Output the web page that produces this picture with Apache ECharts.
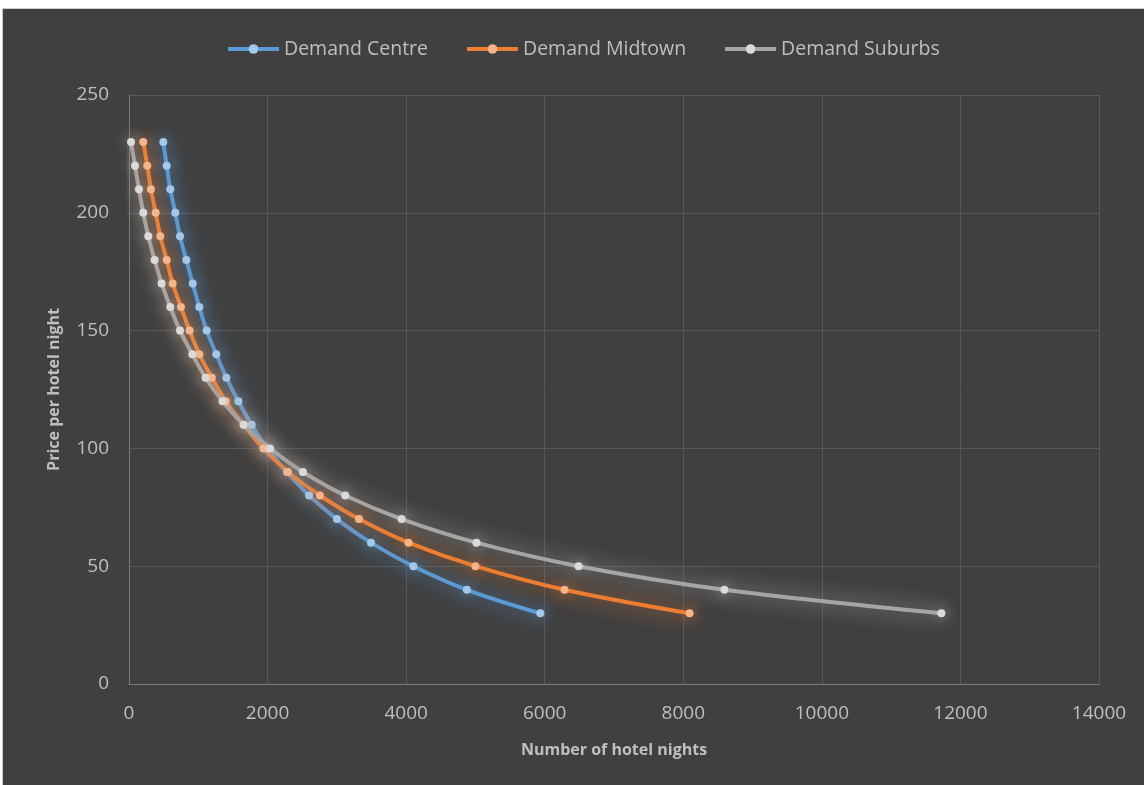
<!DOCTYPE html>
<html>
<head>
<meta charset="utf-8">
<script src="https://cdn.jsdelivr.net/npm/echarts@6/dist/echarts.min.js"></script>
<style>
html,body{margin:0;padding:0;background:#ffffff;}
#frame{position:absolute;left:2px;top:8px;width:1142px;height:777px;background:#404040;border-left:1px solid #c8c8c8;border-top:1px solid #c8c8c8;box-sizing:border-box;}
#chart{position:absolute;left:0;top:0;width:1141px;height:776px;}
</style>
</head>
<body>
<div id="frame"><div id="chart"></div></div>
<script>
const prices = [230,220,210,200,190,180,170,160,150,140,130,120,110,100,90,80,70,60,50,40,30];
const centre = [495,544,596,668,736,827,919,1015,1121,1260,1405,1578,1770,1990,2280,2600,3001,3492,4104,4877,5937];
const midtown = [206,264,317,385,452,544,630,750,875,1015,1195,1398,1655,1939,2295,2756,3319,4034,5000,6286,8091];
const suburbs = [29,87,144,206,279,370,471,596,736,914,1105,1350,1655,2035,2510,3121,3935,5015,6489,8593,11725];
const seriesNames = ['Demand Centre','Demand Midtown','Demand Suburbs'];
const xTicks = [0,2000,4000,6000,8000,10000,12000,14000];
const yTicks = [0,50,100,150,200,250];

const FONT = '"Open Sans", "Noto Sans", sans-serif';
const chart = echarts.init(document.getElementById('chart'), null, {renderer:'canvas'});

function mk(name, xs, color, markColor, glow){
  return {
    name: name,
    type: 'line',
    data: xs.map((x,i)=>[x, prices[i]]),
    smooth: 0.35,
    symbol: 'circle',
    symbolSize: 8,
    showSymbol: true,
    lineStyle: {color: color, width: 4, shadowBlur: 20, shadowColor: glow},
    itemStyle: {color: markColor, borderWidth: 0, shadowBlur: 14, shadowColor: glow},
    emphasis: {disabled: true},
    z: 2
  };
}

chart.setOption({
  animation: false,
  backgroundColor: '#404040',
  textStyle: {fontFamily: FONT},
  legend: {
    top: 25,
    left: 218,
    itemWidth: 51,
    itemHeight: 12,
    itemGap: 37,
    lineStyle: {width: 4, shadowBlur: 0},
    itemStyle: {shadowBlur: 0},
    textStyle: {color: '#bfbfbf', fontSize: 19.5, fontFamily: FONT},
    data: seriesNames
  },
  grid: {left: 126, right: 45, top: 86, bottom: 101, containLabel: false},
  xAxis: {
    type: 'value', min: 0, max: 14000, interval: 2000,
    name: 'Number of hotel nights', nameLocation: 'middle', nameGap: 58,
    nameTextStyle: {color: '#bfbfbf', fontSize: 16, fontWeight: 'bold', fontFamily: FONT},
    axisLine: {show: true, lineStyle: {color: '#7a7a7a', width: 1}},
    axisTick: {show: false},
    axisLabel: {color: '#bfbfbf', fontSize: 19, margin: 20, fontFamily: FONT,
      formatter: v => xTicks.includes(v) ? String(v) : ''},
    splitLine: {show: true, lineStyle: {color: '#585858', width: 1}}
  },
  yAxis: {
    type: 'value', min: 0, max: 250, interval: 50,
    name: 'Price per hotel night', nameLocation: 'middle', nameGap: 67, nameRotate: 90,
    nameTextStyle: {color: '#bfbfbf', fontSize: 16, fontWeight: 'bold', fontFamily: FONT},
    axisLine: {show: true, lineStyle: {color: '#7a7a7a', width: 1}},
    axisTick: {show: false},
    axisLabel: {color: '#bfbfbf', fontSize: 19, margin: 20, fontFamily: FONT,
      formatter: v => yTicks.includes(v) ? String(v) : ''},
    splitLine: {show: true, lineStyle: {color: '#585858', width: 1}}
  },
  series: [
    mk(seriesNames[0], centre, '#5b9bd5', '#a4c8ea', 'rgba(91,155,213,0.95)'),
    mk(seriesNames[1], midtown, '#ed7d31', '#f6b48a', 'rgba(237,125,49,0.95)'),
    mk(seriesNames[2], suburbs, '#a5a5a5', '#dadada', 'rgba(205,205,205,0.8)')
  ]
});
</script>
</body>
</html>
